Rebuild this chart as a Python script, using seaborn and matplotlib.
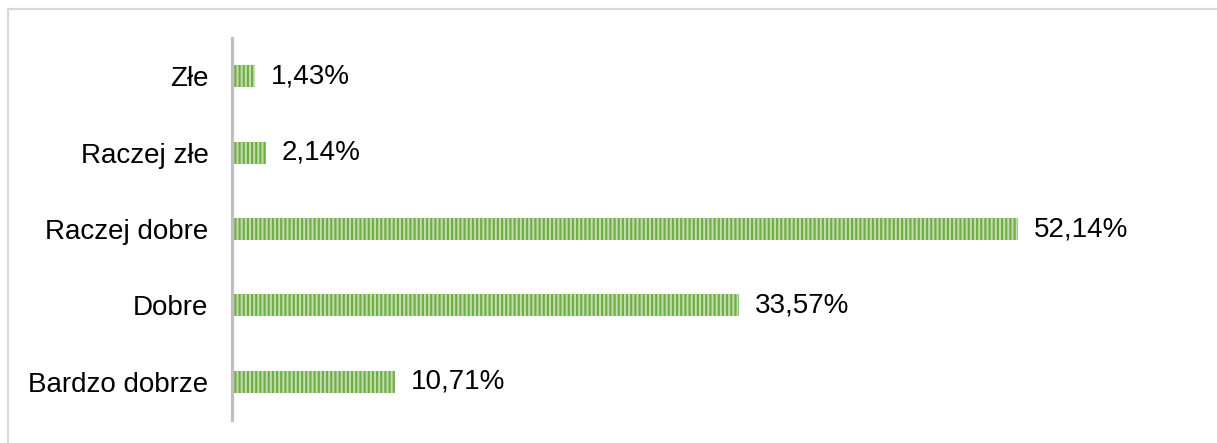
import matplotlib.pyplot as plt
import matplotlib.patches as mpatches
import seaborn as sns
import pandas as pd

categories = ['Złe', 'Raczej złe', 'Raczej dobre', 'Dobre', 'Bardzo dobrze']
values = [1.43, 2.14, 52.14, 33.57, 10.71]

df = pd.DataFrame({'ocena': categories, 'procent': values})

sns.set_style('white')
plt.rcParams['font.family'] = ['Liberation Sans', 'DejaVu Sans']
plt.rcParams['hatch.linewidth'] = 1.6

fig = plt.figure(figsize=(12.17, 4.43), dpi=100)
ax = fig.add_axes([232 / 1217, 23 / 443, 960 / 1217, 382 / 443])

sns.barplot(data=df, x='procent', y='ocena', orient='h', color='#c6e3ae',
            width=0.29, ax=ax)
for p in ax.patches:
    p.set_hatch('||||')
    p.set_edgecolor('#6fb043')
    p.set_linewidth(0)

labels = [f'{v:.2f}%'.replace('.', ',') for v in values]
ax.bar_label(ax.containers[0], labels=labels, padding=11.5, fontsize=20, color='black')

ax.set_xlim(-0.1, 63.7)
ax.set_ylim(4.5, -0.5)
ax.set_xlabel('')
ax.set_ylabel('')
ax.set_xticks([])
for s in ['top', 'right', 'bottom']:
    ax.spines[s].set_visible(False)
ax.spines['left'].set_color('#bfbfbf')
ax.spines['left'].set_linewidth(2.3)
ax.tick_params(axis='y', length=0, pad=17, labelsize=20, labelcolor='black')

# ramka wykresu
fig.patches.append(mpatches.Rectangle((8 / 1217, -0.1), 1.2, 1.1 - 9 / 443,
                                      transform=fig.transFigure, fill=False,
                                      edgecolor='#d9d9d9', linewidth=1.6))

fig.savefig('out.png', dpi=100)
